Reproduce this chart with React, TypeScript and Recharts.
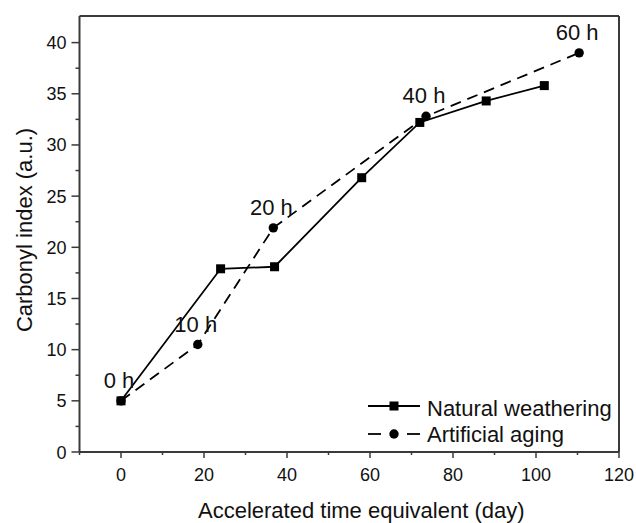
import React from 'react';
import { LineChart, Line, XAxis, YAxis, ReferenceLine, LabelList, Customized, Label } from 'recharts';

const naturalX = [0, 24, 37, 58, 72, 88, 102];
const naturalY = [5.0, 17.9, 18.1, 26.8, 32.2, 34.3, 35.8];
const agingX = [0, 18.5, 36.7, 73.5, 110.4];
const agingY = [5.0, 10.5, 21.9, 32.8, 39.0];
const agingLabels = ['0 h', '10 h', '20 h', '40 h', '60 h'];
const seriesNames = ['Natural weathering', 'Artificial aging'];
const xTicks = [-10, 0, 10, 20, 30, 40, 50, 60, 70, 80, 90, 100, 110, 120];
const yTicks = [0, 2.5, 5, 7.5, 10, 12.5, 15, 17.5, 20, 22.5, 25, 27.5, 30, 32.5, 35, 37.5, 40];
const xTitle = 'Accelerated time equivalent (day)';
const yTitle = 'Carbonyl index (a.u.)';

const naturalData = naturalX.map((x, i) => ({ x, y: naturalY[i] }));
const agingData = agingX.map((x, i) => ({ x, y: agingY[i], label: agingLabels[i] }));

const FONT = '"Liberation Sans", Arial, sans-serif';
const AXIS = '#3a3a3a';
const TEXT = '#111';

const XTick = (props: any) => {
  const { x, y, payload } = props;
  const major = payload.value % 20 === 0;
  return (
    <g>
      <line x1={x} x2={x} y1={y} y2={y + (major ? 6 : 3)} stroke={AXIS} strokeWidth={1.5} />
      {major && (
        <text x={x} y={y + 29} textAnchor="middle" fontSize={18} fill={TEXT} fontFamily={FONT}>
          {payload.value}
        </text>
      )}
    </g>
  );
};

const YTick = (props: any) => {
  const { x, y, payload } = props;
  const major = payload.value % 5 === 0;
  return (
    <g>
      <line x1={x - (major ? 8 : 4)} x2={x} y1={y} y2={y} stroke={AXIS} strokeWidth={1.5} />
      {major && (
        <text x={x - 13} y={y + 6.5} textAnchor="end" fontSize={18} fill={TEXT} fontFamily={FONT}>
          {payload.value}
        </text>
      )}
    </g>
  );
};

const SquareDot = (p: any) => {
  if (p.cx == null || p.cy == null) return <g key={p.index} />;
  return <rect key={p.index} x={p.cx - 4.5} y={p.cy - 4.5} width={9} height={9} fill="#000" />;
};

const CircleDot = (p: any) => {
  if (p.cx == null || p.cy == null) return <g key={p.index} />;
  return <circle key={p.index} cx={p.cx} cy={p.cy} r={4.7} fill="#000" />;
};

const PointLabel = (p: any) => {
  const { x, y, value } = p;
  return (
    <text x={x - 2} y={y - 13} textAnchor="middle" fontSize={22} fill={TEXT} fontFamily={FONT}>
      {value}
    </text>
  );
};

const XTitle = (p: any) => {
  const vb = p.viewBox || { x: 0, y: 0, width: 0 };
  return (
    <text x={vb.x + vb.width / 2 + 12} y={vb.y + 66} textAnchor="middle" fontSize={22} fill={TEXT} fontFamily={FONT}>
      {xTitle}
    </text>
  );
};

const YTitle = (p: any) => {
  const vb = p.viewBox || { x: 0, y: 0, height: 0 };
  const cx = vb.x + 24;
  const cy = vb.y + vb.height / 2 - 4;
  return (
    <text
      x={cx}
      y={cy}
      transform={`rotate(-90 ${cx} ${cy})`}
      textAnchor="middle"
      dominantBaseline="central"
      fontSize={22}
      fill={TEXT}
      fontFamily={FONT}
    >
      {yTitle}
    </text>
  );
};

const LegendBox = () => (
  <g fontFamily={FONT}>
    <line x1={368} x2={420} y1={406} y2={406} stroke="#000" strokeWidth={1.8} />
    <rect x={389.5} y={401.5} width={9} height={9} fill="#000" />
    <text x={427} y={415.5} fontSize={22} fill={TEXT}>{seriesNames[0]}</text>
    <line x1={368} x2={381} y1={434} y2={434} stroke="#000" strokeWidth={1.8} />
    <circle cx={394} cy={434} r={4.7} fill="#000" />
    <line x1={407} x2={420} y1={434} y2={434} stroke="#000" strokeWidth={1.8} />
    <text x={427} y={441.5} fontSize={22} fill={TEXT}>{seriesNames[1]}</text>
  </g>
);

export default function App() {
  return (
    <div style={{ position: 'absolute', left: 0, top: 0, background: '#fff' }}>
      <LineChart
        width={636}
        height={523}
        margin={{ top: 16, right: 17, bottom: 0, left: 0 }}
        style={{ fontFamily: FONT }}
      >
        <XAxis
          type="number"
          dataKey="x"
          domain={[-10, 120]}
          ticks={xTicks}
          interval={0}
          height={71}
          tickSize={0}
          tickMargin={0}
          tickLine={false}
          tick={<XTick />}
          axisLine={{ stroke: AXIS, strokeWidth: 2 }}
          allowDataOverflow
        >
          <Label content={<XTitle />} />
        </XAxis>
        <YAxis
          type="number"
          dataKey="y"
          domain={[0, 42.6]}
          ticks={yTicks}
          interval={0}
          width={79.5}
          tickSize={0}
          tickMargin={0}
          tickLine={false}
          tick={<YTick />}
          axisLine={{ stroke: AXIS, strokeWidth: 2 }}
          allowDataOverflow
        >
          <Label content={<YTitle />} />
        </YAxis>
        <ReferenceLine y={42.6} stroke={AXIS} strokeWidth={2} />
        <ReferenceLine x={120} stroke={AXIS} strokeWidth={2} />
        <Line
          data={naturalData}
          dataKey="y"
          name={seriesNames[0]}
          stroke="#000"
          strokeWidth={1.8}
          dot={SquareDot}
          activeDot={false}
          isAnimationActive={false}
        />
        <Line
          data={agingData}
          dataKey="y"
          name={seriesNames[1]}
          stroke="#000"
          strokeWidth={1.8}
          strokeDasharray="11 7"
          dot={CircleDot}
          activeDot={false}
          isAnimationActive={false}
        >
          <LabelList dataKey="label" content={<PointLabel />} />
        </Line>
        <Customized component={LegendBox} />
      </LineChart>
    </div>
  );
}
